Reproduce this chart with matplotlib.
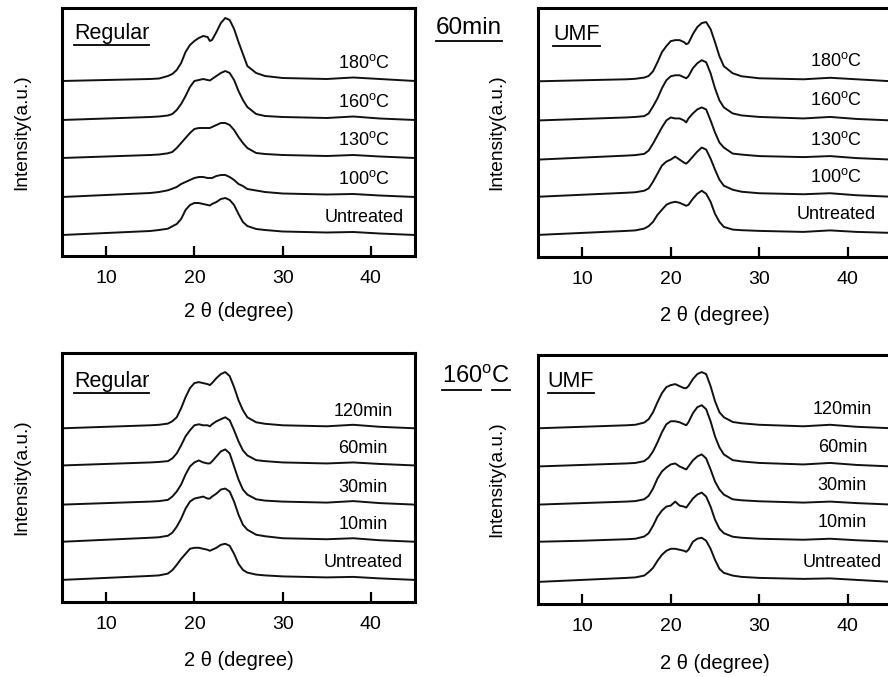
import matplotlib
matplotlib.use("Agg")
import matplotlib.pyplot as plt
from matplotlib.lines import Line2D

plt.rcParams['font.family'] = ['Liberation Sans', 'DejaVu Sans']
plt.rcParams['mathtext.fontset'] = 'custom'
plt.rcParams['mathtext.rm'] = 'Liberation Sans'
plt.rcParams['mathtext.it'] = 'Liberation Sans'
plt.rcParams['mathtext.default'] = 'regular'

# ---------------- data -----------------
two_theta = [5, 10, 15, 16, 17, 17.5, 18, 18.5, 19, 19.5, 20, 20.5, 21, 21.5, 21.75, 22,
             22.5, 23, 23.5, 24, 24.5, 25, 25.5, 26, 27, 28, 30, 35, 38, 41, 45]

# Regular, 60 min (temperature series)
temp_labels = ['Untreated', '100$^{\\mathrm{o}}$C', '130$^{\\mathrm{o}}$C',
               '160$^{\\mathrm{o}}$C', '180$^{\\mathrm{o}}$C']
reg_temp_offsets = [21, 59, 98, 136, 175]
reg_untreated = [0, 2, 4, 5, 6.3, 8.7, 11, 16, 25, 30, 32, 32, 31, 30, 29.5, 31, 33, 36, 37, 35, 30, 21, 13, 9, 6, 5, 3.5, 2.5, 3, 1.5, 0]
reg_100C = [0, 2, 4, 5, 6.7, 8.3, 10, 13, 15, 17, 19, 20, 20, 19, 19, 19, 21, 22, 22, 20, 17, 13, 11, 8, 6.5, 5, 3.5, 2.5, 3, 1.5, 0]
reg_130C = [0, 1.5, 3, 3.5, 4.7, 6, 10, 15, 20, 25, 29, 30, 30, 30, 30, 31, 33, 35, 35, 33, 28, 21, 15, 10, 5, 4, 3, 2, 3, 1.5, 0]
reg_160C = [0, 1.5, 3, 3.5, 4.5, 6, 10, 16, 24, 33, 39, 40, 41, 40, 39.5, 41, 44, 47, 49, 47, 40, 29, 20, 13, 6, 4, 3, 2, 3.5, 1.5, 0]
reg_180C = [0, 1, 2, 2.5, 5, 7, 11, 18, 29, 36, 40, 43, 45, 44, 40, 41, 49, 58, 63, 61, 52, 39, 27, 15, 8, 5, 3, 2, 3.5, 2, 0]

# UMF, 60 min (temperature series)
umf_temp_offsets = [22, 60, 97, 136, 175]
umf_untreated = [0, 2, 4, 4.5, 6.3, 8.7, 13, 20, 25, 30, 32, 33, 32, 30, 29, 30, 36, 41, 44, 41, 33, 21, 13, 8, 5.3, 4.7, 4, 3, 4.5, 3, 2]
umf_100C = [0, 2, 4, 4.5, 6, 8.3, 15, 23, 31, 35, 37, 40, 37, 34, 33, 35, 40, 45, 49, 47, 38, 27, 17, 11, 7, 5, 3.5, 2.5, 3.5, 1.5, 0]
umf_130C = [0, 2, 4, 4.5, 5.7, 9, 16, 24, 32, 39, 42, 41, 41, 39, 37, 41, 46, 50, 52, 50, 39, 27, 17, 12, 6, 5, 3.5, 2.5, 3.5, 1.5, 0]
umf_160C = [0, 1.5, 3, 3.5, 4.3, 7, 14, 22, 32, 40, 44, 45, 45, 43, 42, 44, 52, 57, 60, 58, 47, 32, 20, 13, 7, 5, 3.5, 2, 3.5, 1.5, 0]
umf_180C = [0, 1, 2, 2.5, 3.7, 5.3, 10, 19, 29, 35, 40, 41, 41, 39, 37, 38, 47, 54, 58, 59, 52, 39, 25, 15, 8, 5, 3, 2, 3.5, 2, 0]

# Regular, 160 C (time series)
time_labels = ['Untreated', '10min', '30min', '60min', '120min']
reg_time_offsets = [22, 60, 97, 136, 173]
reg_t_untreated = [0, 2, 4, 4.5, 6.3, 9.7, 15, 21, 26, 31, 32, 32, 31, 30, 29, 30, 32, 35, 36, 34, 26, 16, 10, 7.3, 5.3, 4.5, 3.5, 2.5, 3, 1.5, 0]
reg_t_10 = [0, 2, 4, 4.5, 6, 9, 15, 23, 33, 40, 43, 44, 45, 43, 43, 45, 48, 52, 53, 50, 40, 27, 17, 12, 7, 5.5, 3.5, 2.5, 3.5, 1.5, 0]
reg_t_30 = [0, 1.5, 3, 3.5, 4.7, 8, 13, 20, 30, 38, 42, 44, 42, 41, 41, 43, 48, 53, 55, 51, 38, 25, 15, 10, 5.3, 4, 3, 2, 3.5, 1.5, 0]
reg_t_60 = [0, 1.5, 3, 3.5, 4.3, 7, 12, 20, 29, 35, 40, 41, 40, 40, 39, 41, 44, 46, 48, 45, 35, 24, 15, 10, 5.3, 4.3, 3, 2, 3, 1.5, 0]
reg_t_120 = [0, 1.5, 3, 3.5, 4.7, 7, 11, 20, 31, 40, 45, 46, 45, 44, 43, 45, 50, 54, 56, 52, 41, 28, 18, 11, 6, 4.5, 3, 2, 3.5, 1.5, 0]

# UMF, 160 C (time series)
umf_time_offsets = [22, 62, 99, 137, 175]
umf_t_untreated = [0, 2, 4, 4.5, 6.3, 9.7, 14, 21, 27, 31, 33, 33, 32, 31, 30, 32, 40, 43, 44, 41, 33, 22, 13, 9, 6.3, 5, 4, 3, 3.5, 2, 0]
umf_t_10 = [0, 1, 2.5, 3, 5.2, 8.5, 16, 25, 31, 35, 36, 40, 36, 35, 34, 37, 43, 47, 49, 45, 35, 22, 13, 8.5, 5, 4, 3, 2, 3, 1.5, 0]
umf_t_30 = [0, 1.5, 3, 3.5, 5.3, 8.7, 16, 26, 33, 37, 40, 41, 38, 36, 35, 38, 44, 48, 50, 46, 35, 23, 15, 10, 5.3, 4.3, 3.3, 2, 3, 1.5, 0]
umf_t_60 = [0, 1.5, 3, 3.5, 5.3, 8.7, 15, 24, 34, 42, 45, 45, 44, 42, 41, 44, 53, 59, 61, 57, 45, 30, 19, 12, 6.3, 5, 3.5, 2, 3.5, 1.5, 0]
umf_t_120 = [0, 1.5, 3, 3.5, 5.7, 9, 16, 26, 35, 41, 43, 44, 42, 40, 40, 42, 49, 54, 56, 54, 42, 27, 16, 11, 6.3, 5, 3.5, 2, 3.5, 1.5, 0]

xticks = [10, 20, 30, 40]

# ---------------- figure -----------------
W, H = 888, 677
fig = plt.figure(figsize=(W / 100, H / 100), dpi=100)


def box(left, top, right, bottom):
    return [left / W, 1 - bottom / H, (right - left) / W, (bottom - top) / H]


panels = [
    dict(rect=box(62, 8, 415, 256), curves=[reg_untreated, reg_100C, reg_130C, reg_160C, reg_180C],
         offsets=reg_temp_offsets, labels=temp_labels, name='Regular', name_xy=(6.35, 223),
         lab_x=39.2, lab_dy=18, xl_y=-0.222, yl_x=-0.113),
    dict(rect=box(538, 8, 892, 257), curves=[umf_untreated, umf_100C, umf_130C, umf_160C, umf_180C],
         offsets=umf_temp_offsets, labels=temp_labels, name='UMF', name_xy=(6.7, 222),
         lab_x=38.7, lab_dy=20, xl_y=-0.234, yl_x=-0.116),
    dict(rect=box(62, 353, 415, 602), curves=[reg_t_untreated, reg_t_10, reg_t_30, reg_t_60, reg_t_120],
         offsets=reg_time_offsets, labels=time_labels, name='Regular', name_xy=(6.35, 220),
         lab_x=39.1, lab_dy=17, xl_y=-0.234, yl_x=-0.113),
    dict(rect=box(538, 355, 892, 604), curves=[umf_t_untreated, umf_t_10, umf_t_30, umf_t_60, umf_t_120],
         offsets=umf_time_offsets, labels=time_labels, name='UMF', name_xy=(6.1, 222),
         lab_x=39.4, lab_dy=19, xl_y=-0.237, yl_x=-0.116),
]

name_texts = []
for p in panels:
    ax = fig.add_axes(p['rect'])
    for curve, off in zip(p['curves'], p['offsets']):
        ax.plot(two_theta, [v + off for v in curve], color='#111111', lw=1.4)
    for lab, off in zip(p['labels'], p['offsets']):
        ax.text(p['lab_x'], off + p['lab_dy'], lab, ha='center', va='center', fontsize=13)
    t = ax.text(p['name_xy'][0], p['name_xy'][1], p['name'], ha='left', va='center', fontsize=15.5)
    name_texts.append(t)
    ax.set_xlim(5, 45)
    ax.set_ylim(0, 248)
    ax.set_xticks(xticks)
    ax.set_xticklabels([str(v) for v in xticks])
    ax.set_yticks([])
    ax.tick_params(axis='x', direction='in', length=7.5, width=1.6, pad=10, labelsize=14)
    for s in ax.spines.values():
        s.set_linewidth(2.2)
    ax.set_xlabel('2 θ (degree)', fontsize=14.5, va='center')
    ax.xaxis.set_label_coords(0.5, p['xl_y'])
    ax.set_ylabel('Intensity(a.u.)', fontsize=13.8, va='center')
    ax.yaxis.set_label_coords(p['yl_x'], 0.5)

t1 = fig.text(469 / W, 1 - 28 / H, '60min', ha='center', va='center', fontsize=17.5)
name_texts.append(t1)
# "160°C" title: underline drawn under "160" and "C" separately
t2 = fig.text(476 / W, 1 - 377 / H, '160$^{\\mathrm{o}}$C', ha='center', va='center', fontsize=17)

fig.canvas.draw()
renderer = fig.canvas.get_renderer()
for t in name_texts:
    bb = t.get_window_extent(renderer)
    y = bb.y0 - 1.5
    fig.add_artist(Line2D([bb.x0 / W, bb.x1 / W], [y / H, y / H], color='black', lw=1.3,
                          transform=fig.transFigure))

bb2 = t2.get_window_extent(renderer)
y2 = bb2.y0 - 1.5
wtot = bb2.x1 - bb2.x0
fig.add_artist(Line2D([bb2.x0 / W, (bb2.x0 + 0.58 * wtot) / W], [y2 / H, y2 / H], color='black',
                      lw=1.3, transform=fig.transFigure))
fig.add_artist(Line2D([(bb2.x0 + 0.74 * wtot) / W, bb2.x1 / W], [y2 / H, y2 / H], color='black',
                      lw=1.3, transform=fig.transFigure))

fig.savefig('out.png', dpi=100)
